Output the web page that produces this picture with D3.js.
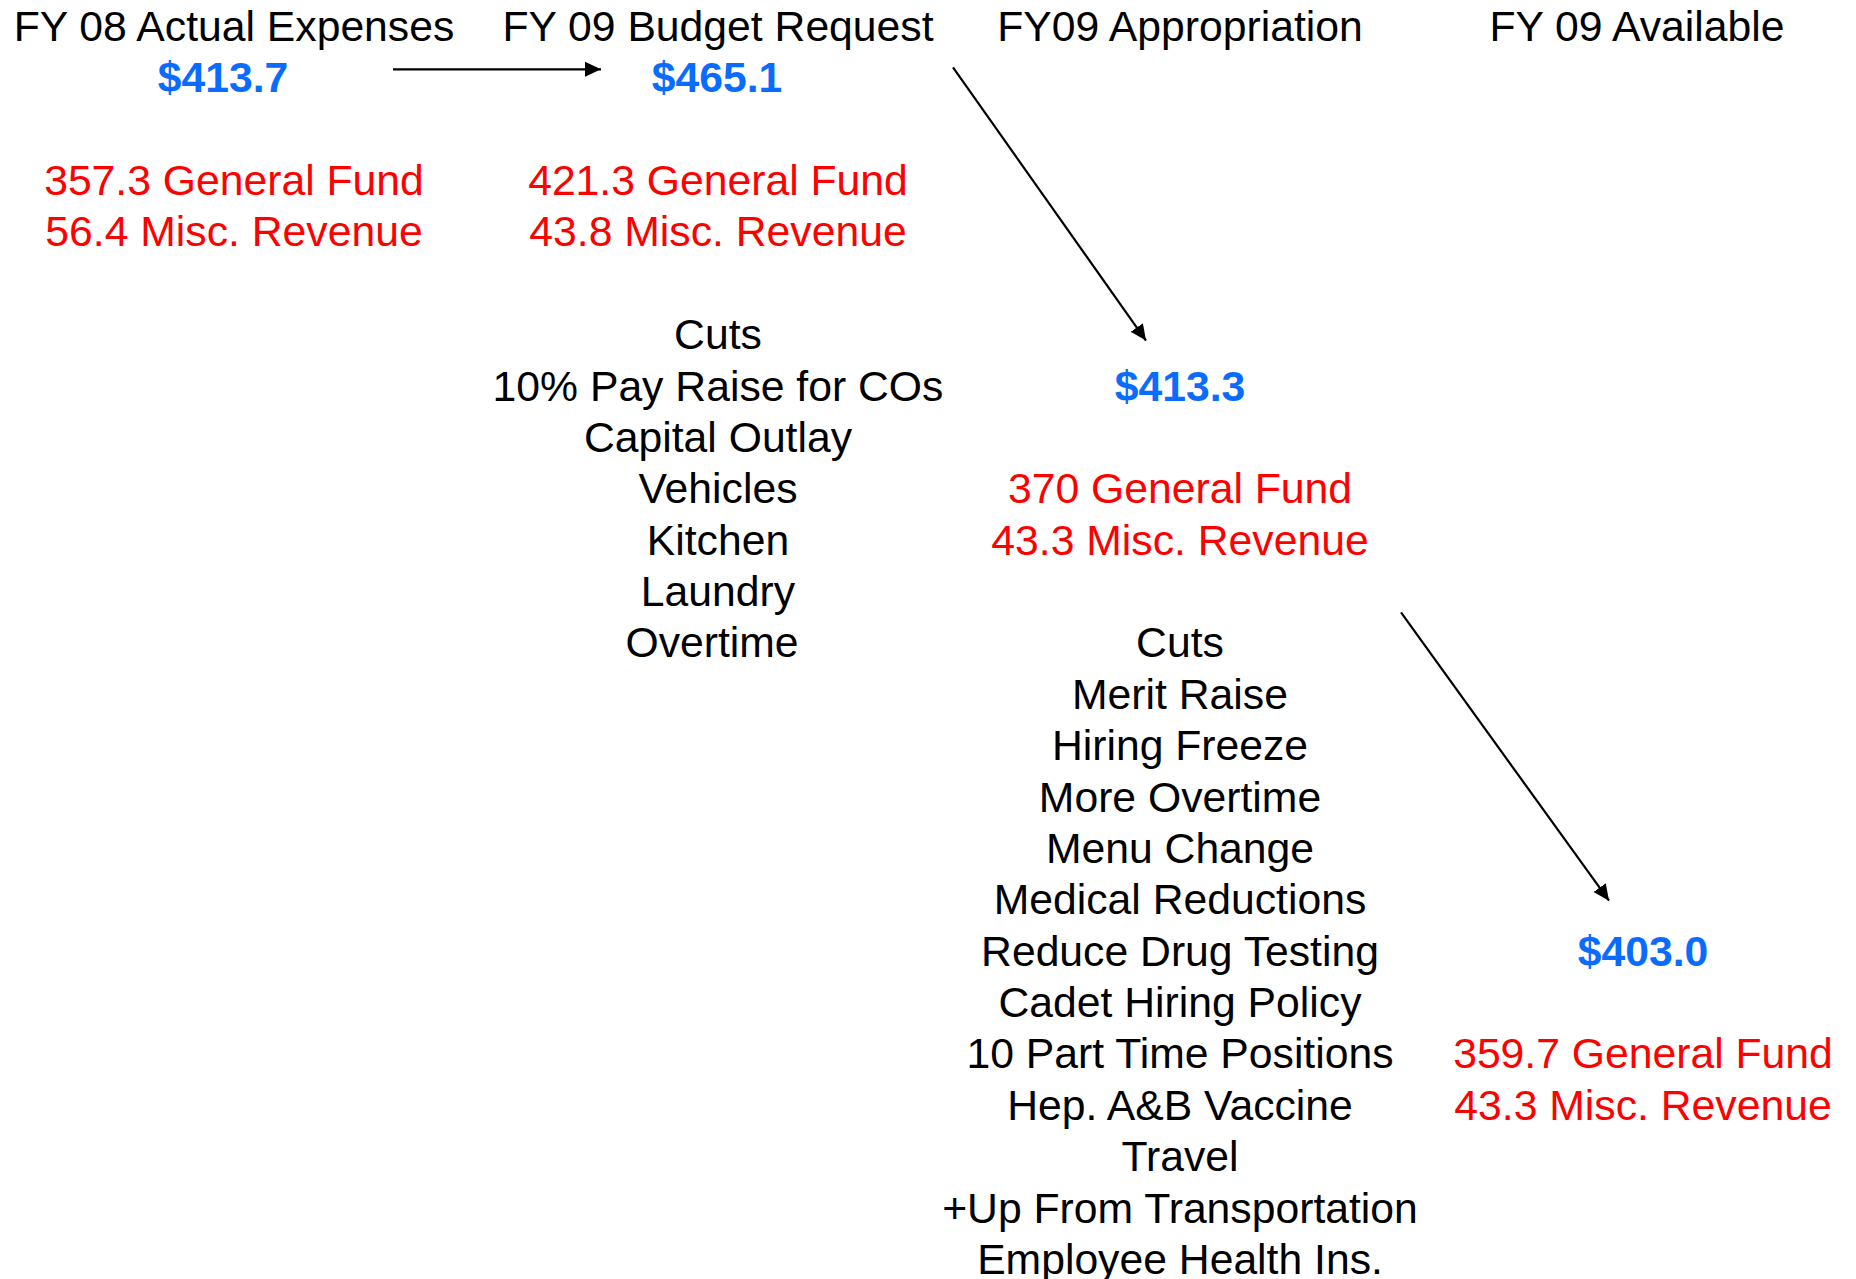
<!DOCTYPE html>
<html>
<head>
<meta charset="utf-8">
<script src="https://cdn.jsdelivr.net/npm/d3@7"></script>
<style>
  html, body { margin: 0; padding: 0; background: #fff; }
  svg { display: block; }
</style>
</head>
<body>
<script>
// ---- data ----
const stages = ["FY 08 Actual Expenses", "FY 09 Budget Request", "FY09 Appropriation", "FY 09 Available"];
const totals = ["$413.7", "$465.1", "$413.3", "$403.0"];
const totalRows = [1, 1, 7, 18];
const generalFund = ["357.3 General Fund", "421.3 General Fund", "370 General Fund", "359.7 General Fund"];
const miscRevenue = ["56.4 Misc. Revenue", "43.8 Misc. Revenue", "43.3 Misc. Revenue", "43.3 Misc. Revenue"];
const fundRows = [3, 3, 9, 20];
const requestCuts = ["Cuts", "10% Pay Raise for COs", "Capital Outlay", "Vehicles", "Kitchen", "Laundry", "Overtime"];
const appropriationCuts = ["Cuts", "Merit Raise", "Hiring Freeze", "More Overtime", "Menu Change", "Medical Reductions",
  "Reduce Drug Testing", "Cadet Hiring Policy", "10 Part Time Positions", "Hep. A&B Vaccine", "Travel",
  "+Up From Transportation", "Employee Health Ins."];
const cutStart = [6, 12]; // row where each cuts list begins (stage 1, stage 2)
// arrows: from stage total to stage total (stage index pairs)
const flows = [[0, 1], [1, 2], [2, 3]];

// ---- layout ----
const W = 1856, H = 1279;
const svg = d3.select("body").append("svg").attr("width", W).attr("height", H);

const x = d3.scaleOrdinal().domain(d3.range(stages.length)).range([234, 718, 1180, 1643]);
const y = d3.scaleLinear().domain([0, 24]).range([41, 41 + 24 * 51.37]);

const FONT = "'Liberation Sans', Arial, Helvetica, sans-serif";
const FS = 42.7;
const BLUE = "#0a6cff", RED = "#ff0000";

function addText(items) {
  svg.append("g").selectAll("text").data(items).join("text")
    .attr("x", d => x(d.col) + (d.dx || 0))
    .attr("y", d => y(d.row))
    .attr("text-anchor", "middle")
    .attr("font-family", FONT)
    .attr("font-size", FS)
    .attr("font-weight", d => d.bold ? "bold" : "normal")
    .attr("fill", d => d.color)
    .text(d => d.text);
}

// titles
addText(stages.map((t, i) => ({ text: t, col: i, row: 0, color: "#000", dx: i === 3 ? -6 : 0 })));
// totals
addText(totals.map((t, i) => ({ text: t, col: i, row: totalRows[i], color: BLUE, bold: true, dx: i === 0 ? -11 : (i === 1 ? -1 : 0) })));
// funds
addText(generalFund.map((t, i) => ({ text: t, col: i, row: fundRows[i], color: RED })));
addText(miscRevenue.map((t, i) => ({ text: t, col: i, row: fundRows[i] + 1, color: RED })));
// cuts lists
addText(requestCuts.map((t, i) => ({ text: t, col: 1, row: cutStart[0] + i, color: "#000", dx: t === "Overtime" ? -6 : 0 })));
addText(appropriationCuts.map((t, i) => ({ text: t, col: 2, row: cutStart[1] + i, color: "#000" })));

// arrow marker
svg.append("defs").append("marker")
  .attr("id", "ah")
  .attr("markerUnits", "userSpaceOnUse")
  .attr("viewBox", "0 0 16 16")
  .attr("refX", 16).attr("refY", 8)
  .attr("markerWidth", 16).attr("markerHeight", 16)
  .attr("orient", "auto")
  .append("path").attr("d", "M0,0.5 L16,8 L0,15.5 Z").attr("fill", "#000");

// arrow geometry, relative to the stage columns / rows
const arrowGeom = [
  { x1: x(0) + 159, y1: y(1) - 23, x2: x(1) - 117, y2: y(1) - 23 },
  { x1: x(1) + 235, y1: y(1) - 25, x2: x(2) - 34, y2: y(7) - 60 },
  { x1: x(2) + 221, y1: y(12) - 45, x2: x(3) - 34, y2: y(18) - 65 }
];
svg.append("g").selectAll("line").data(flows.map((f, i) => arrowGeom[i])).join("line")
  .attr("x1", d => d.x1).attr("y1", d => d.y1)
  .attr("x2", d => d.x2).attr("y2", d => d.y2)
  .attr("stroke", "#000").attr("stroke-width", 2.2)
  .attr("marker-end", "url(#ah)");
</script>
</body>
</html>
